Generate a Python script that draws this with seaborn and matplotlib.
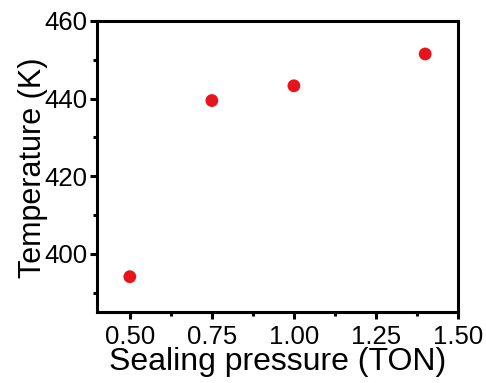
import matplotlib
matplotlib.use("Agg")
import matplotlib.pyplot as plt
import seaborn as sns
import pandas as pd
from matplotlib.ticker import MultipleLocator

pressure = [0.5, 0.75, 1.0, 1.4]
temperature = [394.1, 439.5, 443.3, 451.5]
xtick_values = [0.5, 0.75, 1.0, 1.25, 1.5]
xtick_labels = ["0.50", "0.75", "1.00", "1.25", "1.50"]

sns.set_theme(style="ticks")
plt.rcParams["font.family"] = ["Liberation Sans", "DejaVu Sans"]
plt.rcParams["text.color"] = "black"
plt.rcParams["axes.labelcolor"] = "black"

df = pd.DataFrame({"pressure": pressure, "temperature": temperature})

fig = plt.figure(figsize=(4.86, 3.83), dpi=100)
ax = fig.add_axes([97 / 486, 1 - 312 / 383, (458 - 97) / 486, (312 - 21) / 383])

sns.scatterplot(data=df, x="pressure", y="temperature", ax=ax,
                color="#E8141C", s=85, edgecolor="none", linewidth=0)

ax.set_xlim(0.4, 1.5)
ax.set_ylim(385, 460)
ax.set_xticks(xtick_values)
ax.set_xticklabels(xtick_labels)
ax.xaxis.set_minor_locator(MultipleLocator(0.125))
ax.yaxis.set_major_locator(MultipleLocator(20))
ax.yaxis.set_minor_locator(MultipleLocator(10))

for s in ax.spines.values():
    s.set_linewidth(2.2)
    s.set_color("black")
ax.tick_params(which="major", direction="out", length=5, width=2.2,
               labelsize=18.5, pad=2, colors="black")
ax.tick_params(axis="x", which="major", pad=4)
ax.tick_params(which="minor", direction="out", length=3, width=2.2, colors="black")
ax.tick_params(top=False, right=False, which="both")

ax.set_xlabel("Sealing pressure (TON)", fontsize=23, labelpad=-1)
ax.set_ylabel("Temperature (K)", fontsize=22)
ax.yaxis.set_label_coords(-0.137, 0.497)

fig.savefig("out.png", dpi=100)
